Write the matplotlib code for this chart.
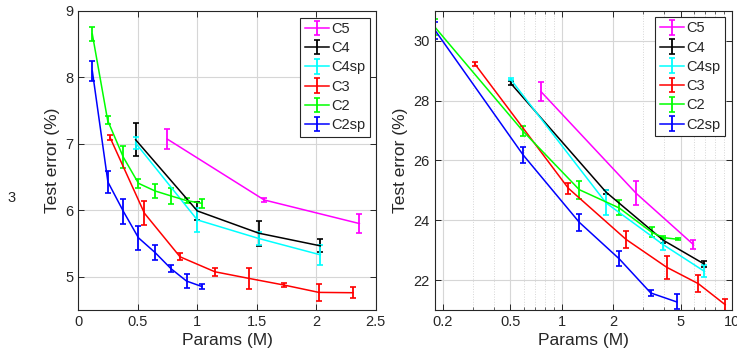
import matplotlib
matplotlib.use("Agg")
import matplotlib.pyplot as plt
from matplotlib.ticker import FixedLocator, NullFormatter

plt.rcParams['font.family'] = ['Liberation Sans', 'DejaVu Sans']

# ---------------- data: left panel ----------------
labels = ["C5", "C4", "C4sp", "C3", "C2", "C2sp"]
colors = ["#FF00FF", "#000000", "#00FFFF", "#FF0000", "#00FF00", "#0000FF"]

L_c5_x = [0.748, 1.562, 2.362]
L_c5_y = [7.07, 6.155, 5.80]
L_c5_e = [0.15, 0.03, 0.14]

L_c4_x = [0.482, 1.0, 1.517, 2.034]
L_c4_y = [7.06, 5.99, 5.655, 5.465]
L_c4_e = [0.25, 0.13, 0.185, 0.10]

L_c4sp_x = [0.482, 1.0, 1.517, 2.034]
L_c4sp_y = [7.01, 5.855, 5.575, 5.33]
L_c4sp_e = [0.095, 0.18, 0.10, 0.15]

L_c3_x = [0.268, 0.556, 0.855, 1.148, 1.435, 1.73, 2.022, 2.309]
L_c3_y = [7.09, 5.955, 5.30, 5.075, 4.975, 4.875, 4.765, 4.76]
L_c3_e = [0.04, 0.18, 0.05, 0.06, 0.155, 0.035, 0.125, 0.08]

L_c2_x = [0.118, 0.247, 0.378, 0.506, 0.645, 0.78, 0.91, 1.036]
L_c2_y = [8.65, 7.35, 6.80, 6.405, 6.29, 6.215, 6.145, 6.105]
L_c2_e = [0.10, 0.06, 0.17, 0.07, 0.10, 0.12, 0.04, 0.07]

L_c2sp_x = [0.118, 0.249, 0.38, 0.506, 0.645, 0.78, 0.91, 1.036]
L_c2sp_y = [8.095, 6.425, 5.98, 5.585, 5.365, 5.12, 4.935, 4.855]
L_c2sp_e = [0.15, 0.17, 0.19, 0.185, 0.12, 0.05, 0.11, 0.04]

# ---------------- data: right panel ----------------
R_c5_x = [0.755, 2.74, 5.94]
R_c5_y = [28.30, 24.90, 23.19]
R_c5_e = [0.32, 0.40, 0.14]

R_c4_x = [0.501, 1.823, 3.96, 6.87]
R_c4_y = [28.58, 24.94, 23.33, 22.54]
R_c4_e = [0.06, 0.07, 0.08, 0.10]

R_c4sp_x = [0.501, 1.823, 3.96, 6.87]
R_c4sp_y = [28.71, 24.58, 23.18, 22.30]
R_c4sp_e = [0.04, 0.42, 0.18, 0.20]

R_c3_x = [0.309, 1.094, 2.39, 4.14, 6.36, 9.14]
R_c3_y = [29.22, 25.07, 23.36, 22.43, 21.88, 21.18]
R_c3_e = [0.08, 0.18, 0.28, 0.39, 0.28, 0.20]

R_c2_x = [0.18, 0.594, 1.27, 2.18, 3.38, 3.96, 4.85]
R_c2_y = [30.45, 26.97, 25.02, 24.41, 23.60, 23.42, 23.36]
R_c2_e = [0.27, 0.17, 0.30, 0.25, 0.17, 0.04, 0.03]

R_c2sp_x = [0.18, 0.594, 1.27, 2.18, 3.34, 4.75]
R_c2sp_y = [30.35, 26.18, 23.93, 22.71, 21.57, 21.27]
R_c2sp_e = [0.28, 0.26, 0.28, 0.25, 0.09, 0.25]

left_series = [(L_c5_x, L_c5_y, L_c5_e), (L_c4_x, L_c4_y, L_c4_e),
               (L_c4sp_x, L_c4sp_y, L_c4sp_e), (L_c3_x, L_c3_y, L_c3_e),
               (L_c2_x, L_c2_y, L_c2_e), (L_c2sp_x, L_c2sp_y, L_c2sp_e)]
right_series = [(R_c5_x, R_c5_y, R_c5_e), (R_c4_x, R_c4_y, R_c4_e),
                (R_c4sp_x, R_c4sp_y, R_c4sp_e), (R_c3_x, R_c3_y, R_c3_e),
                (R_c2_x, R_c2_y, R_c2_e), (R_c2sp_x, R_c2sp_y, R_c2sp_e)]

left_xticks = [0, 0.5, 1, 1.5, 2, 2.5]
left_xticklabels = ["0", "0.5", "1", "1.5", "2", "2.5"]
left_yticks = [5, 6, 7, 8, 9]
right_xticks = [0.2, 0.5, 1, 2, 5, 10]
right_xticklabels = ["0.2", "0.5", "1", "2", "5", "10"]
right_yticks = [22, 24, 26, 28, 30]

# ---------------- figure ----------------
fig = plt.figure(figsize=(7.37, 3.62), dpi=100)
axL = fig.add_axes([0.1062, 0.1436, 0.4037, 0.8268])
axR = fig.add_axes([0.5896, 0.1436, 0.4033, 0.8268])

spine_col = "#262626"
grid_col = "#d6d6d6"
fs_tick = 10.5
fs_lab = 12.5


def style(ax):
    for s in ax.spines.values():
        s.set_color(spine_col)
        s.set_linewidth(0.8)
    ax.tick_params(which="both", direction="in", top=True, right=True,
                   colors=spine_col, labelcolor=spine_col, labelsize=fs_tick)
    ax.tick_params(which="major", length=4, width=0.7)
    ax.tick_params(which="minor", length=2, width=0.5)
    ax.set_axisbelow(True)


def draw(ax, series):
    for (x, y, e), lab, c in zip(series, labels, colors):
        ax.errorbar(x, y, yerr=e, color=c, ecolor=c, lw=1.1, elinewidth=1.3,
                    capsize=2.2, capthick=1.2, label=lab)


draw(axL, left_series)
draw(axR, right_series)

# left axis
axL.set_xlim(0, 2.5)
axL.set_ylim(4.5, 9)
axL.set_xticks(left_xticks)
axL.set_xticklabels(left_xticklabels)
axL.set_yticks(left_yticks)
axL.grid(True, color=grid_col, lw=0.8)
style(axL)
axL.set_xlabel("Params (M)", fontsize=fs_lab, color=spine_col, labelpad=3)
axL.set_ylabel("Test error (%)", fontsize=fs_lab, color=spine_col, labelpad=4)

# right axis
axR.set_xscale("log")
axR.set_xlim(0.179, 10)
axR.set_ylim(21, 31)
axR.xaxis.set_major_locator(FixedLocator(right_xticks))
axR.set_xticklabels(right_xticklabels)
minor = [0.3, 0.4, 0.6, 0.7, 0.8, 0.9, 3, 4, 6, 7, 8, 9]
axR.xaxis.set_minor_locator(FixedLocator(minor))
axR.xaxis.set_minor_formatter(NullFormatter())
axR.set_yticks(right_yticks)
axR.grid(True, which="major", color=grid_col, lw=0.8)
axR.grid(True, which="minor", axis="x", color=grid_col, lw=0.7, ls=":")
style(axR)
axR.set_xlabel("Params (M)", fontsize=fs_lab, color=spine_col, labelpad=3)
axR.set_ylabel("Test error (%)", fontsize=fs_lab, color=spine_col, labelpad=4)

for ax, anchor in ((axL, (0.9805, 0.977)), (axR, (0.9775, 0.979))):
    leg = ax.legend(loc="upper right", bbox_to_anchor=anchor, borderaxespad=0,
                    fontsize=fs_tick, frameon=True, fancybox=False,
                    edgecolor="#262626", framealpha=1, labelspacing=0.36,
                    borderpad=0.3, handlelength=1.7, handletextpad=0.15)
    leg.get_frame().set_linewidth(0.8)
    for t in leg.get_texts():
        t.set_color("#262626")

fig.text(0.0163, 0.453, "3", fontsize=fs_tick, color="#262626",
         ha="center", va="center")

fig.savefig("out.png", dpi=100)
